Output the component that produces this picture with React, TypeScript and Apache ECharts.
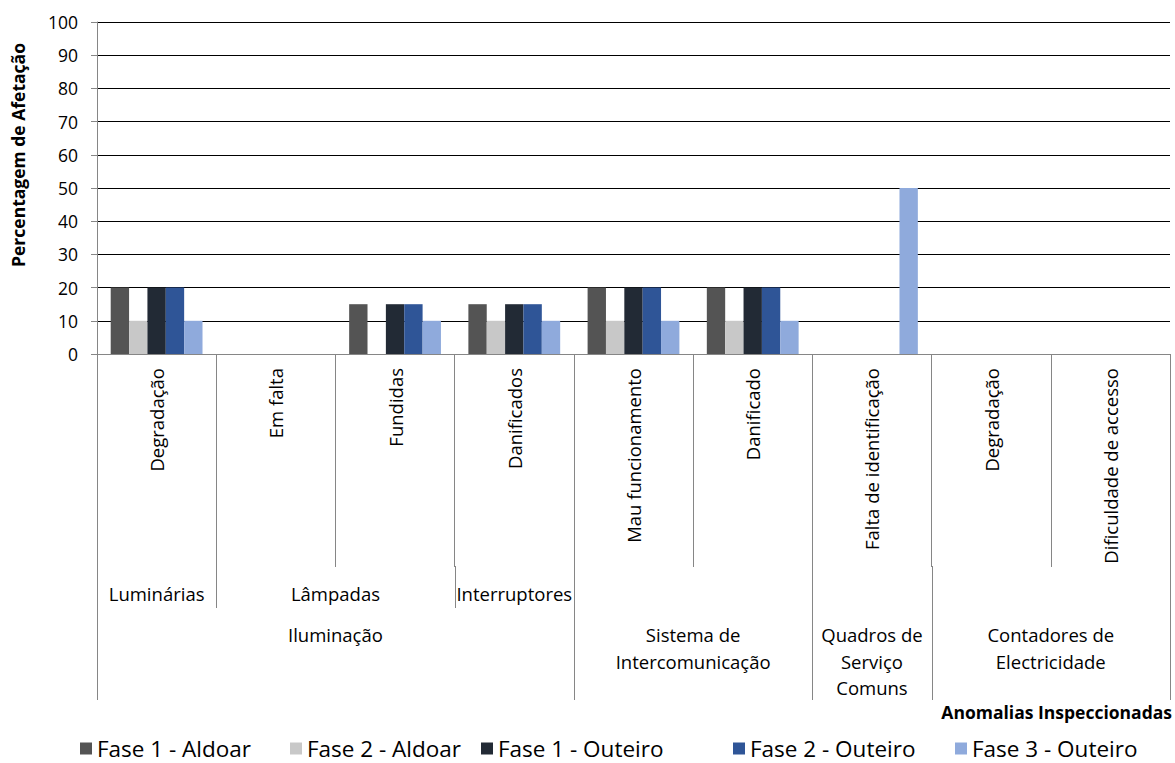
import React, { useEffect, useRef } from "react";
import * as echarts from "echarts";

const categories = [
  "Degradação",
  "Em falta",
  "Fundidas",
  "Danificados",
  "Mau funcionamento",
  "Danificado",
  "Falta de identificação",
  "Degradação",
  "Dificuldade de accesso",
];

const seriesNames = [
  "Fase 1 - Aldoar",
  "Fase 2 - Aldoar",
  "Fase 1 - Outeiro",
  "Fase 2 - Outeiro",
  "Fase 3 - Outeiro",
];

const fase1Aldoar = [20, 0, 15, 15, 20, 20, 0, 0, 0];
const fase2Aldoar = [10, 0, 0, 10, 10, 10, 0, 0, 0];
const fase1Outeiro = [20, 0, 15, 15, 20, 20, 0, 0, 0];
const fase2Outeiro = [20, 0, 15, 15, 20, 20, 0, 0, 0];
const fase3Outeiro = [10, 0, 10, 10, 10, 10, 50, 0, 0];

const seriesColors = ["#545454", "#C8C8C8", "#222A35", "#2F5597", "#8FAADC"];

const level2Groups = [
  { label: "Luminárias", start: 0, span: 1 },
  { label: "Lâmpadas", start: 1, span: 2 },
  { label: "Interruptores", start: 3, span: 1 },
];

const level3Groups = [
  { label: "Iluminação", start: 0, span: 4 },
  { label: "Sistema de\nIntercomunicação", start: 4, span: 2 },
  { label: "Quadros de\nServiço\nComuns", start: 6, span: 1 },
  { label: "Contadores de\nElectricidade", start: 7, span: 2 },
];

const yTitle = "Percentagem de Afetação";
const xTitle = "Anomalias Inspeccionadas";

// legend item left positions (layout)
const legendLefts = [80, 290, 481, 733, 955];

export default function App() {
  const ref = useRef<HTMLDivElement>(null);

  useEffect(() => {
    const chart = echarts.init(ref.current!, null, { renderer: "svg" });
    const FONT = "'Open Sans', sans-serif";
    const LABEL_SIZE = 18.5;
    const gridLeft = 97;
    const gridTop = 22;
    const gridW = 1073;
    const gridH = 332;
    const allData = [fase1Aldoar, fase2Aldoar, fase1Outeiro, fase2Outeiro, fase3Outeiro];

    chart.setOption({
      animation: false,
      textStyle: { fontFamily: FONT },
      grid: { left: gridLeft, top: gridTop, width: gridW, height: gridH, containLabel: false },
      legend: seriesNames.map((name, i) => ({
        left: legendLefts[i],
        top: 737,
        padding: 0,
        icon: "rect",
        itemWidth: 12,
        itemHeight: 12,
        textStyle: { fontFamily: FONT, fontSize: 22.5, color: "#000" },
        data: [name],
      })),
      xAxis: {
        type: "category",
        data: categories,
        axisLine: { lineStyle: { color: "#868686", width: 1 } },
        axisTick: { show: true, length: 213, lineStyle: { color: "#868686" } },
        axisLabel: {
          interval: 0,
          rotate: 90,
          margin: 14,
          fontFamily: FONT,
          fontSize: LABEL_SIZE,
          color: "#000",
        },
        z: 5,
      },
      yAxis: {
        type: "value",
        min: 0,
        max: 100,
        interval: 10,
        axisLine: { show: true, lineStyle: { color: "#868686" } },
        axisTick: { show: true, length: 6, lineStyle: { color: "#868686" } },
        axisLabel: { fontFamily: FONT, fontSize: 17.5, color: "#000", margin: 19 },
        splitLine: { lineStyle: { color: "#000", width: 1 } },
      },
      series: seriesNames.map((name, i) => ({
        name,
        type: "bar",
        data: allData[i],
        itemStyle: { color: seriesColors[i] },
        barGap: "0%",
        barCategoryGap: "23%",
      })),
    });

    const cx = (i: number) => chart.convertToPixel({ xAxisIndex: 0 }, i) as number;
    const bw = cx(1) - cx(0);
    const bx = (i: number) => cx(0) - bw / 2 + i * bw;
    const axisY = gridTop + gridH;
    const tickEnd = axisY + 213;
    const l2End = axisY + 254;
    const l3End = axisY + 346;

    const l3Bounds = new Set<number>();
    level3Groups.forEach((g) => {
      l3Bounds.add(g.start);
      l3Bounds.add(g.start + g.span);
    });
    const l2Bounds = new Set<number>();
    level2Groups.forEach((g) => {
      l2Bounds.add(g.start);
      l2Bounds.add(g.start + g.span);
    });

    const graphics: any[] = [];
    for (let b = 0; b <= categories.length; b++) {
      let end = tickEnd;
      if (l3Bounds.has(b)) end = l3End;
      else if (l2Bounds.has(b)) end = l2End;
      if (end > tickEnd) {
        const x = Math.round(bx(b)) + 0.5;
        graphics.push({
          type: "line",
          shape: { x1: x, y1: tickEnd - 1, x2: x, y2: end },
          style: { stroke: "#868686", lineWidth: 1 },
        });
      }
    }
    level2Groups.forEach((g) => {
      graphics.push({
        type: "text",
        x: bx(g.start) + (g.span * bw) / 2,
        y: 593,
        style: {
          text: g.label,
          fontFamily: FONT,
          fontSize: LABEL_SIZE,
          fill: "#000",
          textAlign: "center",
          textVerticalAlign: "middle",
        },
      });
    });
    level3Groups.forEach((g) => {
      graphics.push({
        type: "text",
        x: bx(g.start) + (g.span * bw) / 2,
        y: 621.5,
        style: {
          text: g.label,
          fontFamily: FONT,
          fontSize: LABEL_SIZE,
          lineHeight: 26.5,
          fill: "#000",
          textAlign: "center",
          textVerticalAlign: "top",
        },
      });
    });
    graphics.push({
      type: "text",
      x: 18,
      y: 155,
      rotation: Math.PI / 2,
      style: {
        text: yTitle,
        fontFamily: FONT,
        fontSize: 17.5,
        fontWeight: "bold",
        fill: "#000",
        textAlign: "center",
        textVerticalAlign: "middle",
      },
    });
    graphics.push({
      type: "text",
      x: 1172,
      y: 712,
      style: {
        text: xTitle,
        fontFamily: FONT,
        fontSize: 17.5,
        fontWeight: "bold",
        fill: "#000",
        textAlign: "right",
        textVerticalAlign: "middle",
      },
    });

    chart.setOption({ graphic: graphics });

    return () => chart.dispose();
  }, []);

  return (
    <div
      ref={ref}
      style={{ position: "absolute", left: 0, top: 0, width: 1175, height: 763, background: "#fff" }}
    />
  );
}
